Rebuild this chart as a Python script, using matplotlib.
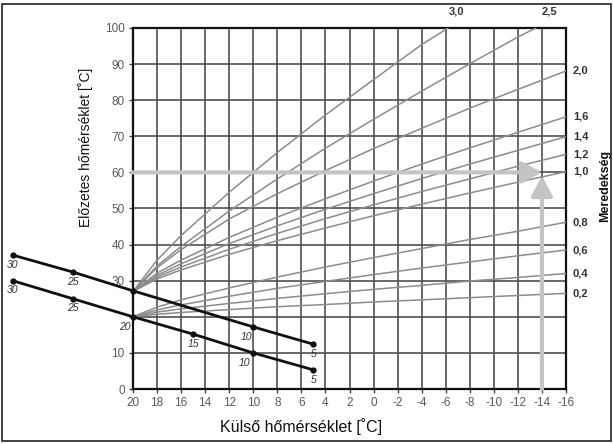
import numpy as np
import matplotlib.pyplot as plt
from matplotlib.patches import Rectangle

plt.rcParams['font.family'] = ['Liberation Sans', 'DejaVu Sans']

# --- data ---
# outside temperature positions where the heating curves were read
outside_temp = [20, 18, 16, 12, 8, 4, 0, -4, -8, -12, -16]

# steep curves leave the top of the chart, so they carry their own x values
curve_30_x = [20, 18, 16, 12, 8, 4, 0, -4, -6.2]
curve_30 = [27, 35.7, 42.5, 54.5, 65.5, 75.9, 85.7, 95.4, 100]
curve_25_x = [20, 18, 16, 12, 8, 4, 0, -4, -8, -12, -13.5]
curve_25 = [27, 34.1, 39.5, 49.3, 58.2, 66.7, 74.7, 82.5, 90.1, 97.5, 100]

curve_20 = [27, 33.6, 38.6, 47.1, 54.1, 60.5, 66.6, 72.2, 77.8, 83.0, 88.1]
curve_16 = [27, 32.1, 35.7, 42.0, 47.6, 52.7, 57.6, 62.3, 66.8, 71.1, 75.4]
curve_14 = [27, 31.5, 34.7, 40.3, 45.2, 49.8, 54.1, 58.3, 62.3, 66.1, 69.9]
curve_12 = [27, 31.0, 33.8, 38.7, 43.1, 47.2, 51.0, 54.7, 58.2, 61.7, 65.0]
curve_10 = [27, 30.5, 33.0, 37.3, 41.1, 44.6, 48.0, 51.2, 54.3, 57.3, 60.2]
curve_08 = [20, 22.7, 24.7, 28.0, 31.0, 33.8, 36.4, 38.9, 41.4, 43.7, 46.2]
curve_06 = [20, 21.9, 23.3, 25.7, 27.9, 29.8, 31.7, 33.5, 35.2, 36.9, 38.5]
curve_04 = [20, 21.3, 22.2, 23.7, 25.1, 26.4, 27.6, 28.7, 29.9, 30.9, 32.0]
curve_02 = [20, 20.7, 21.2, 22.0, 22.8, 23.4, 24.1, 24.7, 25.3, 25.9, 26.5]

right_labels = ['2,0', '1,6', '1,4', '1,2', '1,0', '0,8', '0,6', '0,4', '0,2']
top_labels = ['3,0', '2,5']

# room temperature set-point lines on the left
room_temp = [30, 25, 20, 15, 10, 5]
upper_line = [37.1, 32.4, 27.2, 22.2, 17.2, 12.4]
lower_line = [30, 25, 20, 15.2, 10.0, 5.3]
upper_labels = ['30', '25', '', '', '10', '5']
lower_labels = ['30', '25', '20', '15', '10', '5']

# example reading: -14 °C outside -> 60 °C flow
example_outside = -14
example_flow = 60

x_ticks = list(range(20, -17, -2))
y_ticks = list(range(0, 101, 10))

# --- figure ---
fig = plt.figure(figsize=(6.13, 4.44), dpi=100)
ax = fig.add_axes([133 / 613, 1 - 389 / 444, 433 / 613, 361 / 444])
ax.set_xlim(20, -16)
ax.set_ylim(0, 100)

ax.set_xticks(x_ticks)
ax.set_xticklabels([str(t) for t in x_ticks])
ax.set_yticks(y_ticks)
# the "20" on the y axis is taken by the room line label
ax.set_yticklabels(['' if t == 20 else str(t) for t in y_ticks])
ax.tick_params(axis='both', length=3, width=1, color='#444444',
               labelsize=8.5, labelcolor='#5a5a5a', pad=3)
ax.grid(True, color='#505050', lw=1.2, zorder=1)
for s in ax.spines.values():
    s.set_linewidth(1.6)
    s.set_color('#111111')

curve_gray = '#8c8c8c'
ax.plot(curve_30_x, curve_30, color=curve_gray, lw=1.1, zorder=3)
ax.plot(curve_25_x, curve_25, color=curve_gray, lw=1.1, zorder=3)
for c in [curve_20, curve_16, curve_14, curve_12, curve_10,
          curve_08, curve_06, curve_04, curve_02]:
    ax.plot(outside_temp, c, color=curve_gray, lw=1.1, zorder=3)

# labels for the curves (slope values)
for lab, c in zip(right_labels, [curve_20, curve_16, curve_14, curve_12, curve_10,
                                 curve_08, curve_06, curve_04, curve_02]):
    ax.annotate(lab, xy=(outside_temp[-1], c[-1]), xytext=(5, 0),
                textcoords='offset points', va='center', ha='left',
                fontsize=8, fontweight='bold', color='#333333',
                annotation_clip=False)
ax.annotate(top_labels[0], xy=(curve_30_x[-1], 100), xytext=(6, 8),
            textcoords='offset points', ha='center', va='bottom',
            fontsize=8, fontweight='bold', color='#333333', annotation_clip=False)
ax.annotate(top_labels[1], xy=(curve_25_x[-1], 100), xytext=(10, 8),
            textcoords='offset points', ha='center', va='bottom',
            fontsize=8, fontweight='bold', color='#333333', annotation_clip=False)

# gray example arrows
arrow_kw = dict(arrowstyle='-|>,head_length=12,head_width=6.5', color='#c4c4c4',
                lw=3, shrinkA=0, shrinkB=0, mutation_scale=1)
ax.annotate('', xy=(example_outside, example_flow), xytext=(20, example_flow),
            arrowprops=arrow_kw, zorder=4)
ax.annotate('', xy=(example_outside, example_flow - 1), xytext=(example_outside, 0),
            arrowprops=arrow_kw, zorder=4)

# room temperature lines, they run outside the axes on the left
ax.plot(room_temp, upper_line, color='#111111', lw=2, zorder=5, clip_on=False)
ax.plot(room_temp, lower_line, color='#111111', lw=2, zorder=5, clip_on=False)
ax.plot([t for t, l in zip(room_temp, upper_labels) if l or t == 20],
        [v for t, v, l in zip(room_temp, upper_line, upper_labels) if l or t == 20],
        'o', ms=3.5, color='#111111', zorder=6, clip_on=False)
ax.plot(room_temp, lower_line, 'o', ms=3.5, color='#111111', zorder=6, clip_on=False)
for t, v, lab in zip(room_temp, upper_line, upper_labels):
    if lab:
        dx = -5 if t == 10 else 0
        ax.annotate(lab, xy=(t, v), xytext=(dx, -7), textcoords='offset points',
                    ha='center', va='center', fontsize=7.5, style='italic',
                    color='#333333', annotation_clip=False)
for t, v, lab in zip(room_temp, lower_line, lower_labels):
    dx = -6 if t in (20, 10) else 0
    ax.annotate(lab, xy=(t, v), xytext=(dx, -7), textcoords='offset points',
                ha='center', va='center', fontsize=7.5, style='italic',
                color='#333333', annotation_clip=False)

# axis titles
fig.text(301 / 613, 1 - 427 / 444, 'Külső hőmérséklet [˚C]', ha='center', va='center',
         fontsize=11.5, color='#111111')
fig.text(86 / 613, 1 - 147 / 444, 'Előzetes hőmérséklet [˚C]', ha='center', va='center',
         rotation=90, fontsize=10, color='#111111')
fig.text(605 / 613, 1 - 186 / 444, 'Meredekség', ha='center', va='center',
         rotation=90, fontsize=9, fontweight='bold', color='#111111')

# outer frame
fig.add_artist(Rectangle((2 / 613, 3 / 444), 609 / 613, 437 / 444,
                         transform=fig.transFigure, fill=False, lw=1.2, ec='#222222'))

fig.savefig('out.png', dpi=100)
